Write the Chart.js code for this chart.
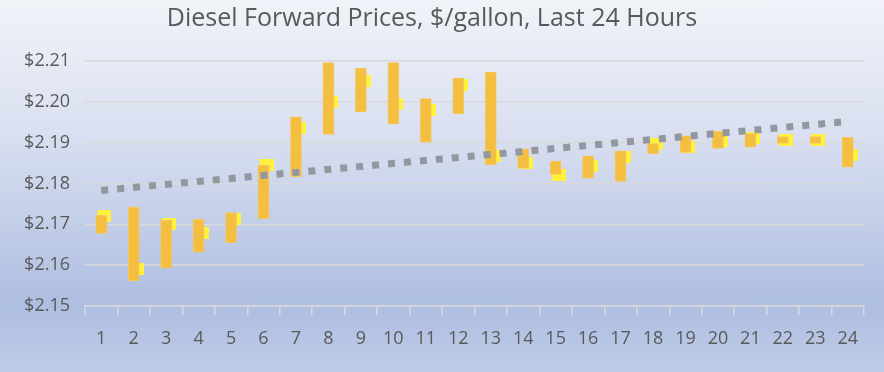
<!DOCTYPE html>
<html lang="en">
<head>
  <meta charset="UTF-8">
  <title>Diesel Forward Prices</title>
  <script src="https://cdn.jsdelivr.net/npm/chart.js"></script>
  <style>
    html, body {
      margin: 0;
      padding: 0;
    }
    #priceChart {
      display: block;
      background: linear-gradient(to bottom, #F1F3F9 0%, #DAE0F0 35%, #AEBEE1 82%, #BFCCE8 100%);
    }
  </style>
</head>
<body>
  <canvas id="priceChart" width="884" height="372"></canvas>

  <script>
    const hours = ['1','2','3','4','5','6','7','8','9','10','11','12','13','14','15','16','17','18','19','20','21','22','23','24'];
    const highs = [2.1722, 2.1742, 2.1710, 2.1712, 2.1729, 2.1845, 2.1963, 2.2096, 2.2082, 2.2096, 2.2008, 2.2058,
                   2.2073, 2.1885, 2.1854, 2.1867, 2.1880, 2.1898, 2.1917, 2.1928, 2.1922, 2.1915, 2.1915, 2.1913];
    const lows = [2.1678, 2.1562, 2.1593, 2.1632, 2.1655, 2.1714, 2.1817, 2.1920, 2.1976, 2.1946, 2.1901, 2.1971,
                  2.1846, 2.1837, 2.1822, 2.1813, 2.1805, 2.1873, 2.1876, 2.1886, 2.1889, 2.1898, 2.1898, 2.1840];
    const closes = [2.1720, 2.1590, 2.1701, 2.1679, 2.1712, 2.1845, 2.1937, 2.2000, 2.2051, 2.1995, 2.1980, 2.2041,
                    2.1868, 2.1849, 2.1822, 2.1842, 2.1864, 2.1897, 2.1889, 2.1905, 2.1912, 2.1906, 2.1906, 2.1871];
    const trendStart = 2.1783;
    const trendEnd = 2.1952;

    const textColor = '#595959';
    const gridColor = '#D9D9D9';

    // close marker: yellow block sitting behind the bar, shifted right
    const closeMark = document.createElement('canvas');
    closeMark.width = 20;
    closeMark.height = 12;
    const mctx = closeMark.getContext('2d');
    mctx.fillStyle = '#FFF13C';
    mctx.fillRect(6, 0, 14, 12);

    const trend = hours.map((h, i) => i === 0 ? trendStart : (i === hours.length - 1 ? trendEnd : null));

    new Chart(document.getElementById('priceChart'), {
      type: 'bar',
      data: {
        labels: hours,
        datasets: [
          {
            type: 'line',
            label: 'Trend',
            data: trend,
            spanGaps: true,
            borderColor: '#9297A0',
            borderWidth: 7,
            borderDash: [7, 9],
            borderCapStyle: 'butt',
            pointRadius: 0,
            order: 0
          },
          {
            label: 'High-Low',
            data: highs.map((h, i) => [lows[i], h]),
            backgroundColor: '#F4BE41',
            borderColor: '#F5C75E',
            borderWidth: 1,
            borderSkipped: false,
            barThickness: 11,
            order: 1
          },
          {
            type: 'line',
            label: 'Close',
            data: closes,
            showLine: false,
            pointStyle: closeMark,
            pointRadius: 6,
            order: 2
          }
        ]
      },
      options: {
        responsive: false,
        animation: false,
        devicePixelRatio: 1,
        layout: {
          padding: { left: 0, right: 20, top: 0, bottom: 0 }
        },
        plugins: {
          legend: { display: false },
          tooltip: { enabled: false },
          title: {
            display: true,
            text: 'Diesel Forward Prices, $/gallon, Last 24 Hours',
            color: textColor,
            font: { family: 'Open Sans', size: 25, weight: 'normal' },
            padding: { top: 4, bottom: 27 }
          }
        },
        scales: {
          x: {
            offset: true,
            grid: {
              display: true,
              offset: true,
              drawOnChartArea: false,
              drawTicks: true,
              tickLength: 9,
              color: gridColor,
              lineWidth: 1.5
            },
            border: { display: true, color: gridColor, width: 1.5 },
            ticks: {
              color: textColor,
              font: { family: 'Open Sans', size: 18 },
              padding: 13,
              maxRotation: 0,
              autoSkip: false
            },
            afterFit: (s) => { s.height = 66; }
          },
          y: {
            min: 2.15,
            max: 2.21,
            grid: {
              color: gridColor,
              lineWidth: 1.5,
              drawTicks: false
            },
            border: { display: false },
            ticks: {
              stepSize: 0.01,
              color: textColor,
              font: { family: 'Open Sans', size: 18 },
              padding: 15,
              callback: (v) => '$' + Number(v).toFixed(2)
            },
            afterFit: (s) => { s.width = 85; }
          }
        }
      }
    });
  </script>
</body>
</html>
